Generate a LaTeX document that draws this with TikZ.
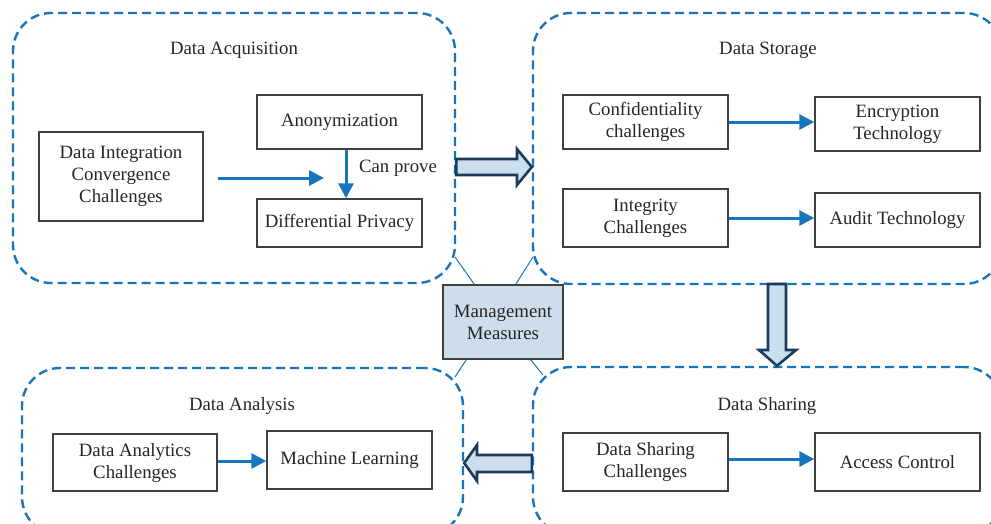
\documentclass[tikz,border=0pt]{standalone}
\usepackage{fontspec}
\setmainfont{Liberation Serif}
\usetikzlibrary{arrows.meta,calc}
\definecolor{dblue}{RGB}{22,117,189}
\definecolor{lblue}{RGB}{204,222,236}
\definecolor{navy}{RGB}{26,60,92}
\definecolor{bgray}{RGB}{64,64,64}
\newcommand{\myfont}{\fontsize{18.8pt}{22pt}\selectfont}
\tikzset{
  container/.style={draw=dblue, line width=2.4pt, dash pattern=on 9pt off 5pt, rounded corners=38pt, inner sep=0pt},
  inbox/.style={draw=bgray, line width=1.4pt, fill=white, inner sep=0pt, align=center, font=\myfont, text=black!85},
  title/.style={font=\myfont, text=black!85},
  flow/.style={draw=dblue, line width=3pt, -{Triangle[length=15pt,width=15pt]}},
  thin/.style={draw=dblue, line width=1pt},
  big/.style={draw=navy, fill=lblue, line width=2.6pt, line join=miter},
}
\begin{document}
\begin{tikzpicture}[x=1pt,y=-1pt]
\useasboundingbox (0,0) rectangle (991,523);
\clip (0,0) rectangle (991,523);
% containers
\node[container, minimum width=442pt, minimum height=270pt] (acq) at (234,148) {};
\node[container, minimum width=469pt, minimum height=271pt] (sto) at (767.5,148.5) {};
\node[container, minimum width=441pt, minimum height=167pt] (ana) at (242.5,451.5) {};
\node[container, minimum width=469pt, minimum height=168pt] (sha) at (767.5,451) {};
% titles
\node[title] (tacq) at (234,50) {Data Acquisition};
\node[title] (tsto) at (768,50) {Data Storage};
\node[title] (tana) at (242,406) {Data Analysis};
\node[title] (tsha) at (767,406) {Data Sharing};
% acquisition boxes
\node[inbox, minimum width=164pt, minimum height=89pt] (dic) at (121,176.5) {Data Integration\\Convergence\\Challenges};
\node[inbox, minimum width=165pt, minimum height=54pt] (ano) at (339.5,122) {Anonymization};
\node[inbox, minimum width=165pt, minimum height=48pt] (dp) at (339.5,223) {Differential Privacy};
\coordinate (dicend) at (324,178);
\path (dic.east |- dicend) ++(14,0) coordinate (dicstart);
\draw[flow] (dicstart) -- (dicend);
\draw[flow] ([xshift=6.5pt]ano.south) -- ([xshift=6.5pt]dp.north);
\node[title, anchor=center] (cp) at (398,168) {Can prove};
% storage boxes
\node[inbox, minimum width=165pt, minimum height=54pt] (conf) at (645.5,122) {Confidentiality\\challenges};
\node[inbox, minimum width=165pt, minimum height=54pt] (enc) at (897.5,124) {Encryption\\Technology};
\node[inbox, minimum width=165pt, minimum height=58pt] (integ) at (645.5,218) {Integrity\\Challenges};
\node[inbox, minimum width=165pt, minimum height=54pt] (aud) at (897.5,220) {Audit Technology};
\draw[flow] (conf.east) -- (conf.east -| enc.west);
\draw[flow] (integ.east) -- (integ.east -| aud.west);
% analysis boxes
\node[inbox, minimum width=164pt, minimum height=57pt] (dac) at (135,462.5) {Data Analytics\\Challenges};
\node[inbox, minimum width=165pt, minimum height=58pt] (ml) at (349.5,460) {Machine Learning};
\draw[flow] ([yshift=1.5pt]dac.east) -- ([yshift=1.5pt]dac.east -| ml.west);
% sharing boxes
\node[inbox, minimum width=165pt, minimum height=58pt] (dsc) at (645.5,462) {Data Sharing\\Challenges};
\node[inbox, minimum width=165pt, minimum height=58pt] (ac) at (897.5,462) {Access Control};
\draw[flow] ([yshift=3pt]dsc.east) -- ([yshift=3pt]dsc.east -| ac.west);
% management
\node[draw=bgray, fill=lblue, line width=1.4pt, minimum width=120pt, minimum height=74pt, inner sep=0pt, align=center, font=\myfont, text=black!85] (mm) at (503,322) {Management\\Measures};
\coordinate (cacq) at (455,257);
\coordinate (csto) at (533,257);
\coordinate (cana) at (455,377);
\coordinate (csha) at (543,375);
\draw[thin] ([xshift=32pt]mm.north west) -- (cacq);
\draw[thin] ([xshift=-48pt]mm.north east) -- (csto);
\draw[thin] ([xshift=24pt]mm.south west) -- (cana);
\draw[thin] ([xshift=-33pt]mm.south east) -- (csha);
% big hollow arrows
\draw[big] (acq.east |- 0,159) -- (517,159) -- (517,149) -- (sto.west |- 0,167) -- (517,185) -- (517,175) -- (acq.east |- 0,175) -- cycle;
\draw[big] (768,284) -- (768,350) -- (759,350) -- (sha.north -| 777,0) -- (796,350) -- (786,350) -- (786,284) -- cycle;
\draw[big] (sha.west |- 0,455) -- (477,455) -- (477,445) -- (ana.east |- 0,463) -- (477,481) -- (477,472) -- (sha.west |- 0,472) -- cycle;
\end{tikzpicture}
\end{document}
